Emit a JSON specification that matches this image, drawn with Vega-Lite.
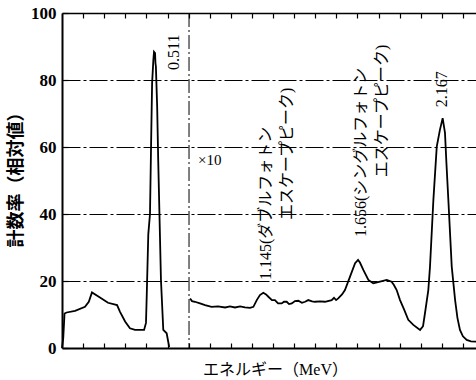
{
  "$schema": "https://vega.github.io/schema/vega-lite/v6.json",
  "width": 414,
  "height": 335,
  "autosize": {"type": "none"},
  "padding": {"left": 62, "top": 13, "right": 0, "bottom": 32},
  "background": "white",
  "config": {"view": {"stroke": null}},
  "datasets": {
    "spectrum": [
      {"ch": 0.0, "rate": 0.0, "seg": "full"},
      {"ch": 0.06, "rate": 3.0, "seg": "full"},
      {"ch": 0.12, "rate": 10.3, "seg": "full"},
      {"ch": 0.22, "rate": 10.6, "seg": "full"},
      {"ch": 0.62, "rate": 11.1, "seg": "full"},
      {"ch": 1.09, "rate": 12.3, "seg": "full"},
      {"ch": 1.27, "rate": 13.8, "seg": "full"},
      {"ch": 1.42, "rate": 16.6, "seg": "full"},
      {"ch": 1.8, "rate": 15.1, "seg": "full"},
      {"ch": 2.18, "rate": 13.5, "seg": "full"},
      {"ch": 2.61, "rate": 12.8, "seg": "full"},
      {"ch": 2.75, "rate": 10.8, "seg": "full"},
      {"ch": 2.99, "rate": 7.9, "seg": "full"},
      {"ch": 3.22, "rate": 5.9, "seg": "full"},
      {"ch": 3.46, "rate": 5.4, "seg": "full"},
      {"ch": 3.89, "rate": 5.4, "seg": "full"},
      {"ch": 3.98, "rate": 7.5, "seg": "full"},
      {"ch": 4.01, "rate": 14.3, "seg": "full"},
      {"ch": 4.09, "rate": 34.0, "seg": "full"},
      {"ch": 4.17, "rate": 40.0, "seg": "full"},
      {"ch": 4.22, "rate": 60.0, "seg": "full"},
      {"ch": 4.27, "rate": 79.0, "seg": "full"},
      {"ch": 4.33, "rate": 86.0, "seg": "full"},
      {"ch": 4.36, "rate": 88.4, "seg": "full"},
      {"ch": 4.41, "rate": 88.0, "seg": "full"},
      {"ch": 4.43, "rate": 85.0, "seg": "full"},
      {"ch": 4.45, "rate": 84.0, "seg": "full"},
      {"ch": 4.51, "rate": 72.0, "seg": "full"},
      {"ch": 4.56, "rate": 56.0, "seg": "full"},
      {"ch": 4.64, "rate": 34.0, "seg": "full"},
      {"ch": 4.69, "rate": 20.3, "seg": "full"},
      {"ch": 4.8, "rate": 5.4, "seg": "full"},
      {"ch": 4.96, "rate": 4.4, "seg": "full"},
      {"ch": 5.08, "rate": 0.3, "seg": "full"},
      {"ch": 6.07, "rate": 14.8, "seg": "x10"},
      {"ch": 6.16, "rate": 14.0, "seg": "x10"},
      {"ch": 6.3, "rate": 13.8, "seg": "x10"},
      {"ch": 6.54, "rate": 13.3, "seg": "x10"},
      {"ch": 6.78, "rate": 12.8, "seg": "x10"},
      {"ch": 7.09, "rate": 12.3, "seg": "x10"},
      {"ch": 7.39, "rate": 12.4, "seg": "x10"},
      {"ch": 7.73, "rate": 12.1, "seg": "x10"},
      {"ch": 7.96, "rate": 12.4, "seg": "x10"},
      {"ch": 8.2, "rate": 12.1, "seg": "x10"},
      {"ch": 8.44, "rate": 12.4, "seg": "x10"},
      {"ch": 8.67, "rate": 12.1, "seg": "x10"},
      {"ch": 8.91, "rate": 12.0, "seg": "x10"},
      {"ch": 9.07, "rate": 12.3, "seg": "x10"},
      {"ch": 9.23, "rate": 14.3, "seg": "x10"},
      {"ch": 9.38, "rate": 15.8, "seg": "x10"},
      {"ch": 9.54, "rate": 16.5, "seg": "x10"},
      {"ch": 9.67, "rate": 16.0, "seg": "x10"},
      {"ch": 9.78, "rate": 15.3, "seg": "x10"},
      {"ch": 9.95, "rate": 14.3, "seg": "x10"},
      {"ch": 10.09, "rate": 14.3, "seg": "x10"},
      {"ch": 10.24, "rate": 13.3, "seg": "x10"},
      {"ch": 10.41, "rate": 13.3, "seg": "x10"},
      {"ch": 10.52, "rate": 13.8, "seg": "x10"},
      {"ch": 10.65, "rate": 13.8, "seg": "x10"},
      {"ch": 10.76, "rate": 13.1, "seg": "x10"},
      {"ch": 10.89, "rate": 13.3, "seg": "x10"},
      {"ch": 11.04, "rate": 14.0, "seg": "x10"},
      {"ch": 11.2, "rate": 14.1, "seg": "x10"},
      {"ch": 11.37, "rate": 13.5, "seg": "x10"},
      {"ch": 11.52, "rate": 13.8, "seg": "x10"},
      {"ch": 11.67, "rate": 14.3, "seg": "x10"},
      {"ch": 11.85, "rate": 13.9, "seg": "x10"},
      {"ch": 11.99, "rate": 13.8, "seg": "x10"},
      {"ch": 12.23, "rate": 13.9, "seg": "x10"},
      {"ch": 12.46, "rate": 13.8, "seg": "x10"},
      {"ch": 12.78, "rate": 14.3, "seg": "x10"},
      {"ch": 12.89, "rate": 15.0, "seg": "x10"},
      {"ch": 12.99, "rate": 14.3, "seg": "x10"},
      {"ch": 13.09, "rate": 14.8, "seg": "x10"},
      {"ch": 13.27, "rate": 16.0, "seg": "x10"},
      {"ch": 13.41, "rate": 17.3, "seg": "x10"},
      {"ch": 13.65, "rate": 21.3, "seg": "x10"},
      {"ch": 13.89, "rate": 25.3, "seg": "x10"},
      {"ch": 14.03, "rate": 26.3, "seg": "x10"},
      {"ch": 14.12, "rate": 25.5, "seg": "x10"},
      {"ch": 14.28, "rate": 23.3, "seg": "x10"},
      {"ch": 14.52, "rate": 20.3, "seg": "x10"},
      {"ch": 14.75, "rate": 19.3, "seg": "x10"},
      {"ch": 14.93, "rate": 19.6, "seg": "x10"},
      {"ch": 15.07, "rate": 19.8, "seg": "x10"},
      {"ch": 15.39, "rate": 20.3, "seg": "x10"},
      {"ch": 15.62, "rate": 19.8, "seg": "x10"},
      {"ch": 15.73, "rate": 18.8, "seg": "x10"},
      {"ch": 15.86, "rate": 17.3, "seg": "x10"},
      {"ch": 16.02, "rate": 14.3, "seg": "x10"},
      {"ch": 16.21, "rate": 11.5, "seg": "x10"},
      {"ch": 16.41, "rate": 8.4, "seg": "x10"},
      {"ch": 16.65, "rate": 6.9, "seg": "x10"},
      {"ch": 16.97, "rate": 5.4, "seg": "x10"},
      {"ch": 17.11, "rate": 6.5, "seg": "x10"},
      {"ch": 17.2, "rate": 10.3, "seg": "x10"},
      {"ch": 17.36, "rate": 17.3, "seg": "x10"},
      {"ch": 17.44, "rate": 24.3, "seg": "x10"},
      {"ch": 17.6, "rate": 44.2, "seg": "x10"},
      {"ch": 17.76, "rate": 60.1, "seg": "x10"},
      {"ch": 17.91, "rate": 65.1, "seg": "x10"},
      {"ch": 18.04, "rate": 68.6, "seg": "x10"},
      {"ch": 18.15, "rate": 64.2, "seg": "x10"},
      {"ch": 18.22, "rate": 55.0, "seg": "x10"},
      {"ch": 18.31, "rate": 44.2, "seg": "x10"},
      {"ch": 18.47, "rate": 24.3, "seg": "x10"},
      {"ch": 18.63, "rate": 14.3, "seg": "x10"},
      {"ch": 18.74, "rate": 9.0, "seg": "x10"},
      {"ch": 18.86, "rate": 5.4, "seg": "x10"},
      {"ch": 19.0, "rate": 3.5, "seg": "x10"},
      {"ch": 19.18, "rate": 2.4, "seg": "x10"},
      {"ch": 19.38, "rate": 2.0, "seg": "x10"},
      {"ch": 19.62, "rate": 1.9, "seg": "x10"}
    ],
    "notes": [
      {"label": "0.511", "ch": 5.31, "v": 83.0, "kind": "rot"},
      {"label": "1.145(ダブルフォトン", "ch": 9.67, "v": 20.3, "kind": "rot"},
      {"label": "エスケープピーク)", "ch": 10.66, "v": 38.2, "kind": "rot"},
      {"label": "1.656(シングルフォトン", "ch": 14.17, "v": 33.1, "kind": "rot"},
      {"label": "エスケープピーク)", "ch": 15.17, "v": 51.0, "kind": "rot"},
      {"label": "2.167", "ch": 17.99, "v": 71.9, "kind": "rot"},
      {"label": "×10", "ch": 6.45, "v": 56.1, "kind": "flat"}
    ],
    "divider": [{"ch": 6.02}]
  },
  "layer": [
    {
      "data": {"name": "spectrum"},
      "mark": {"type": "line", "color": "black", "strokeWidth": 1.8},
      "encoding": {
        "x": {
          "field": "ch", "type": "quantitative",
          "scale": {"domain": [0, 19.62], "nice": false, "zero": false},
          "axis": {
            "orient": "bottom", "values": [1,2,3,4,5,6,7,8,9,10,11,12,13,14,15,16,17,18,19],
            "labels": false, "tickSize": -5, "tickColor": "black", "tickWidth": 1.2,
            "domainColor": "black", "domainWidth": 2, "grid": false,
            "title": "エネルギー（MeV）",
            "titleFont": "Liberation Serif, Noto Sans CJK JP", "titleFontSize": 16, "titleFontWeight": "normal",
            "titleColor": "black", "titleX": 213, "titleY": 21, "titleAlign": "center", "titleBaseline": "middle"
          }
        },
        "y": {
          "field": "rate", "type": "quantitative",
          "scale": {"domain": [0, 100], "nice": false},
          "axis": {
            "orient": "left",
            "values": [0,10,20,30,40,50,60,70,80,90,100],
            "labelExpr": "datum.value % 20 === 0 ? datum.label : ''",
            "labelFont": "Liberation Serif", "labelFontSize": 17, "labelFontWeight": "bold", "labelColor": "black",
            "labelPadding": 12,
            "tickSize": -6, "tickColor": "black", "tickWidth": 1.2,
            "domainColor": "black", "domainWidth": 2,
            "grid": true, "gridColor": "black", "gridWidth": 1, "gridDash": [18, 3, 3, 3],
            "gridOpacity": {"condition": {"test": "datum.value % 20 === 0 && datum.value > 0 && datum.value < 100", "value": 1}, "value": 0},
            "title": "計数率（相対値）",
            "titleFont": "Noto Sans CJK JP", "titleFontSize": 18, "titleFontWeight": "bold", "titleColor": "black",
            "titleX": -46, "titleY": 162, "titleAngle": 270, "titleAlign": "center", "titleBaseline": "middle"
          }
        },
        "detail": {"field": "seg"}
      }
    },
    {
      "data": {"name": "divider"},
      "mark": {"type": "rule", "color": "black", "strokeWidth": 1, "strokeDash": [14, 3, 2, 3]},
      "encoding": {
        "x": {
          "field": "ch", "type": "quantitative",
          "axis": {
            "orient": "top", "values": [1,2,3,4,5,6,7,8,9,10,11,12,13,14,15,16,17,18,19],
            "labels": false, "title": null, "tickSize": -5, "tickColor": "black", "tickWidth": 1.2,
            "domainColor": "black", "domainWidth": 1.6, "grid": false
          }
        }
      }
    },
    {
      "data": {"name": "notes"},
      "transform": [{"filter": "datum.kind === 'rot'"}],
      "mark": {"type": "text", "angle": 270, "align": "left", "baseline": "middle", "font": "Liberation Serif, Noto Sans CJK JP", "fontSize": 16, "color": "black"},
      "encoding": {
        "x": {"field": "ch", "type": "quantitative", "axis": null},
        "y": {"field": "v", "type": "quantitative"},
        "text": {"field": "label"}
      }
    },
    {
      "data": {"name": "notes"},
      "transform": [{"filter": "datum.kind === 'flat'"}],
      "mark": {"type": "text", "align": "left", "baseline": "middle", "font": "Liberation Serif", "fontSize": 15, "color": "black"},
      "encoding": {
        "x": {"field": "ch", "type": "quantitative", "axis": null},
        "y": {"field": "v", "type": "quantitative"},
        "text": {"field": "label"}
      }
    }
  ],
  "resolve": {"axis": {"x": "independent"}}
}
